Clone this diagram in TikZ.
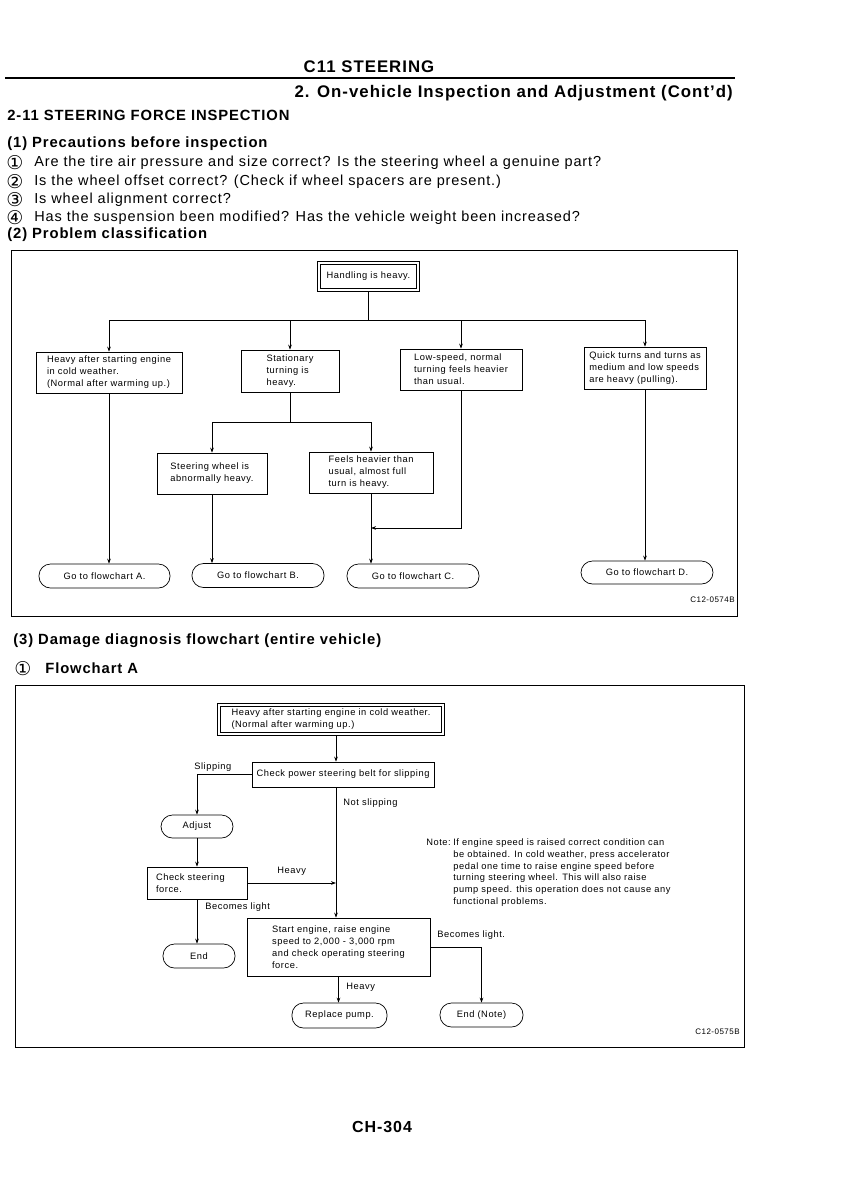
\documentclass[tikz,border=0pt]{standalone}
\usepackage{fontspec}
\setmainfont{Liberation Sans}[LetterSpace=6.0]
\newfontfamily\circfont{DejaVu Sans}
\usetikzlibrary{arrows.meta}

\begin{document}
\begin{tikzpicture}[x=1pt,y=-1pt,line width=0.7pt,>={Stealth[length=5pt,width=3.6pt]}]
	\def \busone{320}
	\def \bustwo{422}
	\def \busthree{528}
	\def \spinex{336}
	\tikzstyle{c-node}=[rectangle,draw=black!100,inner sep=0pt,align=left,font=\fontsize{9.3}{12}\selectfont]
	\tikzstyle{h-node}=[c-node,line width=0.5pt]
	\tikzstyle{h-frame}=[line width=1.2pt]
	\tikzstyle{t-node}=[c-node,rounded corners=11.5pt,align=center]
	\tikzstyle{lbl}=[inner sep=0pt,anchor=west,font=\fontsize{9.3}{12}\selectfont]
	\tikzstyle{tiny}=[inner sep=0pt,anchor=east,font=\fontsize{8}{10}\selectfont]
	\tikzstyle{head}=[inner sep=0pt,anchor=base west,font=\fontsize{14.8}{17}\selectfont\bfseries]
	\tikzstyle{title}=[inner sep=0pt,font=\fontsize{16.8}{20}\selectfont\bfseries]
	\tikzstyle{item}=[inner sep=0pt,anchor=base west,font=\fontsize{14.5}{17}\selectfont]
	\tikzstyle{circ}=[inner sep=0pt,anchor=base west,font=\fontsize{19}{17}\circfont]

	\useasboundingbox[fill=white] (0,0) rectangle (848,1200);

	% page header
	\node[title,anchor=base] 	(chap)	at (369,72.5)	{C11 STEERING};
	\draw[line width=2.2pt] (5,78) -- (735,78);
	\node[title,anchor=base east] 	(sect)	at (733,97.5)	{2. On-vehicle Inspection and Adjustment (Cont'd)};
	\node[head] 	(sub)	at (7,120)	{2-11 STEERING FORCE INSPECTION};

	% precautions
	\node[head] 	(prec)	at (7,147)	{(1) Precautions before inspection};
	\node[circ] 	(n1)	at (6,169.5)	{①};
	\node[circ] 	(n2)	at (6,188)	{②};
	\node[circ] 	(n3)	at (6,206)	{③};
	\node[circ] 	(n4)	at (6,224)	{④};
	\node[item] 	(p1)	at (34,166.5)	{Are the tire air pressure and size correct? Is the steering wheel a genuine part?};
	\node[item] 	(p2)	at (34,185)	{Is the wheel offset correct? (Check if wheel spacers are present.)};
	\node[item] 	(p3)	at (34,203)	{Is wheel alignment correct?};
	\node[item] 	(p4)	at (34,221)	{Has the suspension been modified? Has the vehicle weight been increased?};
	\node[head] 	(cls)	at (7,238)	{(2) Problem classification};

	% problem classification
	\draw (11,250) rectangle (737,616);
	\node[h-node,minimum width=96pt,minimum height=24pt] 	(hh)	at (368.5,276.5)	{Handling is heavy.};
	\draw[h-frame] ([shift={(-2.5,-2.5)}]hh.north west) rectangle ([shift={(2.5,2.5)}]hh.south east);
	\node[c-node,minimum width=146pt,minimum height=41pt] 	(b1)	at (109,372.5)	{Heavy after starting engine\\in cold weather.\\(Normal after warming up.)};
	\node[c-node,minimum width=98pt,minimum height=42pt] 	(b2)	at (290,371)	{Stationary\\turning is\\heavy.};
	\node[c-node,minimum width=122pt,minimum height=41pt] 	(b3)	at (461,369.5)	{Low-speed, normal\\turning feels heavier\\than usual.};
	\node[c-node,minimum width=122pt,minimum height=42pt] 	(b4)	at (645,368)	{Quick turns and turns as\\medium and low speeds\\are heavy (pulling).};
	\node[c-node,minimum width=110pt,minimum height=41pt] 	(b5)	at (212,473.5)	{Steering wheel is\\abnormally heavy.};
	\node[c-node,minimum width=124pt,minimum height=41pt] 	(b6)	at (371,472.5)	{Feels heavier than\\usual, almost full\\turn is heavy.};
	\node[t-node,minimum width=131pt,minimum height=24pt] 	(tA)	at (104.5,576)	{Go to flowchart A.};
	\node[t-node,minimum width=132pt,minimum height=24pt] 	(tB)	at (258,575.5)	{Go to flowchart B.};
	\node[t-node,minimum width=132pt,minimum height=24pt] 	(tC)	at (413,576)	{Go to flowchart C.};
	\node[t-node,minimum width=132pt,minimum height=23pt] 	(tD)	at (647,572.5)	{Go to flowchart D.};
	\node[tiny] 	(fig1)	at (735,600)	{C12-0574B};
	\coordinate (j0) at (368.5,\busone);
	\coordinate (j1) at (290,\bustwo);
	\coordinate (j2) at (371,\busthree);

	\draw (hh.south) ++(0,2.5) -- (j0);
	\draw (b1.north |- j0) -- (b4.north |- j0);
	\draw[->] (b1.north |- j0) -- (b1.north);
	\draw[->] (b2.north |- j0) -- (b2.north);
	\draw[->] (b3.north |- j0) -- (b3.north);
	\draw[->] (b4.north |- j0) -- (b4.north);
	\draw (b2.south) -- (j1);
	\draw (b5.north |- j1) -- (b6.north |- j1);
	\draw[->] (b5.north |- j1) -- (b5.north);
	\draw[->] (b6.north |- j1) -- (b6.north);
	\draw[->] (b3.south) |- (j2);
	\draw[->] (b1.south) -- (b1.south |- tA.north);
	\draw[->] (b5.south) -- (b5.south |- tB.north);
	\draw[->] (b6.south) -- (b6.south |- tC.north);
	\draw[->] (b4.south) -- (b4.south |- tD.north);

	% flowchart A
	\node[head] 	(dmg)	at (13,644)	{(3) Damage diagnosis flowchart (entire vehicle)};
	\node[circ] 	(n5)	at (14,675.5)	{①};
	\node[head] 	(fca)	at (45,673)	{Flowchart A};
	\draw (15,685) rectangle (744,1047);
	\node[h-node,minimum width=221pt,minimum height=26pt] 	(a0)	at (331,719.5)	{Heavy after starting engine in cold weather.\\(Normal after warming up.)};
	\draw[h-frame] ([shift={(-2.5,-2.5)}]a0.north west) rectangle ([shift={(2.5,2.5)}]a0.south east);
	\node[c-node,minimum width=182pt,minimum height=25pt] 	(a1)	at (343,774.5)	{Check power steering belt for slipping};
	\node[t-node,minimum width=72pt,minimum height=23pt] 	(adj)	at (197,826.5)	{Adjust};
	\node[c-node,minimum width=100pt,minimum height=32pt,text width=82pt] 	(a2)	at (197,883)	{Check steering\\force.};
	\node[c-node,minimum width=183pt,minimum height=58pt] 	(a3)	at (338.5,947)	{Start engine, raise engine\\speed to 2,000 - 3,000 rpm\\and check operating steering\\force.};
	\node[t-node,minimum width=72pt,minimum height=24pt] 	(endL)	at (199,956)	{End};
	\node[t-node,minimum width=95pt,minimum height=25pt] 	(rp)	at (339.5,1015.5)	{Replace pump.};
	\node[t-node,minimum width=83pt,minimum height=24pt] 	(endN)	at (481.5,1015)	{End (Note)};
	\node[tiny] 	(fig2)	at (740,1032)	{C12-0575B};
	\coordinate (spine) at (\spinex,750);

	% labels
	\node[lbl] 	(l1)	at (194,767)	{Slipping};
	\node[lbl] 	(l2)	at (343,803)	{Not slipping};
	\node[lbl] 	(l3)	at (277,871)	{Heavy};
	\node[lbl] 	(l4)	at (205,907)	{Becomes light};
	\node[lbl] 	(l5)	at (437,935)	{Becomes light.};
	\node[lbl] 	(l6)	at (346,987)	{Heavy};
	\node[lbl,anchor=north west,font=\fontsize{9.3}{11.7}\selectfont] 	(note)	at (426,838.5)	{Note:};
	\node[lbl,anchor=north west,align=left,font=\fontsize{9.3}{11.7}\selectfont] 	(notetxt)	at (453,838.5)	{If engine speed is raised correct condition can\\be obtained. In cold weather, press accelerator\\pedal one time to raise engine speed before\\turning steering wheel. This will also raise\\pump speed. this operation does not cause any\\functional problems.};

	\draw[->] (a0.south -| spine) ++(0,2.5) -- (a1.north -| spine);
	\draw[->] (a1.south -| spine) -- (a3.north -| spine);
	\draw[->] (a1.west) -| (adj.north);
	\draw[->] (adj.south) -- (a2.north);
	\draw[->] (a2.east) -- (a2.east -| spine);
	\draw[->] (a2.south) -- (a2.south |- endL.north);
	\draw[->] (a3.east) -| (endN.north);
	\draw[->] (a3.south) -- (a3.south |- rp.north);

	% page number
	\node[title,font=\fontsize{16}{19}\selectfont\bfseries] 	(page)	at (382,1127)	{CH-304};
\end{tikzpicture}
\end{document}
